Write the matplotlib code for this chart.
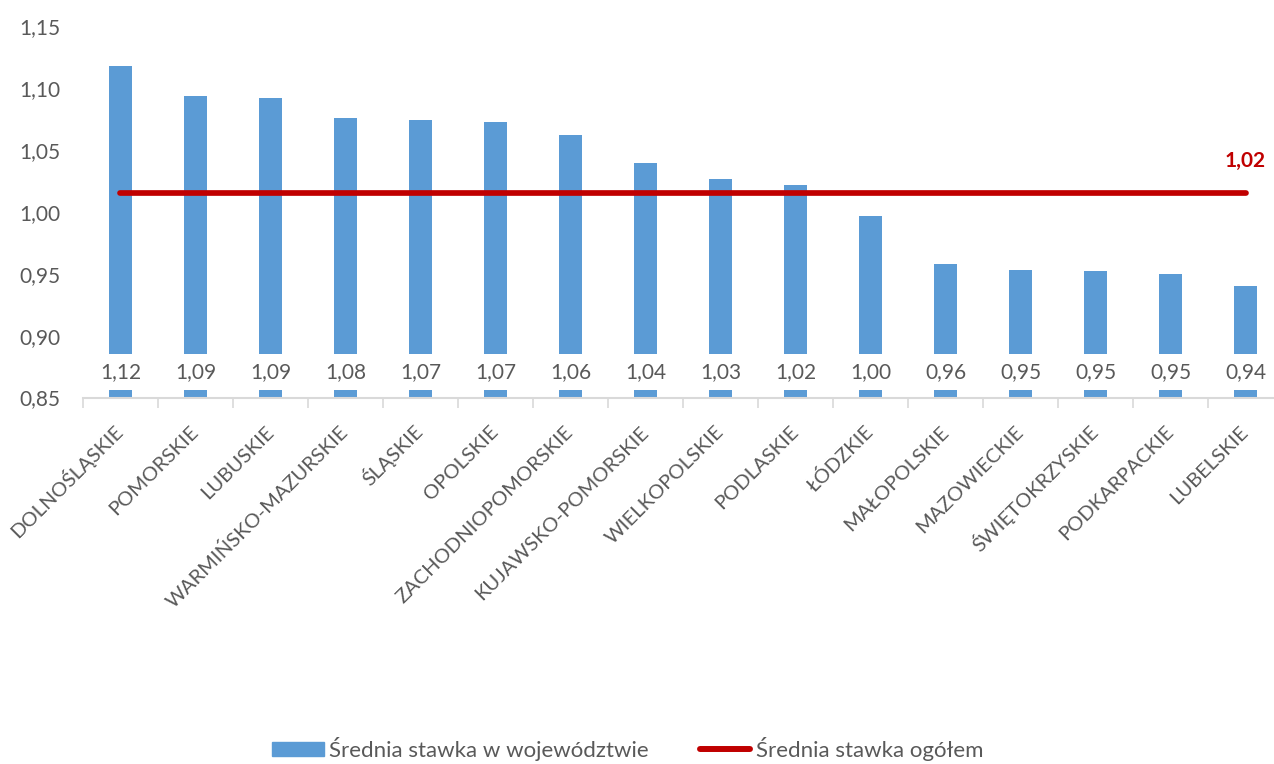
import numpy as np
import matplotlib.pyplot as plt
import matplotlib.transforms as mtransforms
from matplotlib.patches import Patch
from matplotlib.lines import Line2D

plt.rcParams['font.family'] = ['Lato', 'DejaVu Sans']

regions = ["DOLNOŚLĄSKIE", "POMORSKIE", "LUBUSKIE", "WARMIŃSKO-MAZURSKIE", "ŚLĄSKIE",
           "OPOLSKIE", "ZACHODNIOPOMORSKIE", "KUJAWSKO-POMORSKIE", "WIELKOPOLSKIE",
           "PODLASKIE", "ŁÓDZKIE", "MAŁOPOLSKIE", "MAZOWIECKIE", "ŚWIĘTOKRZYSKIE",
           "PODKARPACKIE", "LUBELSKIE"]
rates = [1.118, 1.094, 1.092, 1.076, 1.074, 1.073, 1.062, 1.0395, 1.0265,
         1.0215, 0.997, 0.958, 0.953, 0.952, 0.9495, 0.9405]
overall = 1.0155
yticks = [0.85, 0.90, 0.95, 1.00, 1.05, 1.10, 1.15]

BLUE = '#5B9BD5'
RED = '#C00000'
GREY = '#595959'


def pl(v):
    return f"{v:.2f}".replace('.', ',')


fig = plt.figure(figsize=(12.74, 7.64), dpi=100)
# plot area runs a little past the right edge of the canvas
ax = fig.add_axes([0.0651, 0.4797, 0.942, 0.4856])

x = np.arange(len(regions))
ax.bar(x, np.array(rates) - 0.85, bottom=0.85, width=0.31, color=BLUE, zorder=2)
ax.plot([x[0], x[-1]], [overall, overall], color=RED, lw=4.1,
        solid_capstyle='round', zorder=3)
ax.text(x[-1], overall + 0.0255, pl(overall), color=RED,
        fontsize=15, fontweight='bold', ha='center', va='center', zorder=4)

# value labels sit at the base of each bar on a white box
for xi, v in zip(x, rates):
    ax.text(xi, 0.8705, pl(v), ha='center', va='center',
            fontsize=15, color=GREY, zorder=4,
            bbox=dict(boxstyle='square,pad=0.38', fc='white', ec='none'))

ax.set_xlim(-0.5, len(regions) - 0.5)
ax.set_ylim(0.85, 1.15)
ax.set_yticks(yticks)
ax.set_yticklabels([pl(t) for t in yticks])
ax.tick_params(axis='y', length=0, labelsize=15, labelcolor=GREY, pad=16)

ax.set_xticks(x)
ax.set_xticklabels(regions, rotation=45, ha='right', va='baseline', rotation_mode='anchor',
                   fontsize=14.5, color=GREY)
ax.tick_params(axis='x', which='major', length=0, pad=0)
shift = mtransforms.ScaledTranslation(4 / 100, -35.5 / 100, fig.dpi_scale_trans)
for lab in ax.get_xticklabels():
    lab.set_transform(lab.get_transform() + shift)
ax.set_xticks(np.arange(-0.5, len(regions)), minor=True)
ax.tick_params(axis='x', which='minor', length=7, color='#D9D9D9', width=1.2)

for s in ['top', 'right', 'left']:
    ax.spines[s].set_visible(False)
ax.spines['bottom'].set_color('#D9D9D9')
ax.spines['bottom'].set_linewidth(1.5)

leg_kw = dict(frameon=False, fontsize=16, labelcolor=GREY, borderpad=0,
              borderaxespad=0)
fig.legend([Patch(color=BLUE)], ["Średnia stawka w województwie"],
           loc='center left', bbox_to_anchor=(272 / 1274, 0.02),
           handlelength=2.34, handleheight=0.63, handletextpad=0.22, **leg_kw)
fig.legend([Line2D([0], [0], color=RED, lw=4.3, solid_capstyle='round')],
           ["Średnia stawka ogółem"],
           loc='center left', bbox_to_anchor=(700 / 1274, 0.02),
           handlelength=2.25, handletextpad=0.25, **leg_kw)

fig.savefig('out.png', dpi=100)
